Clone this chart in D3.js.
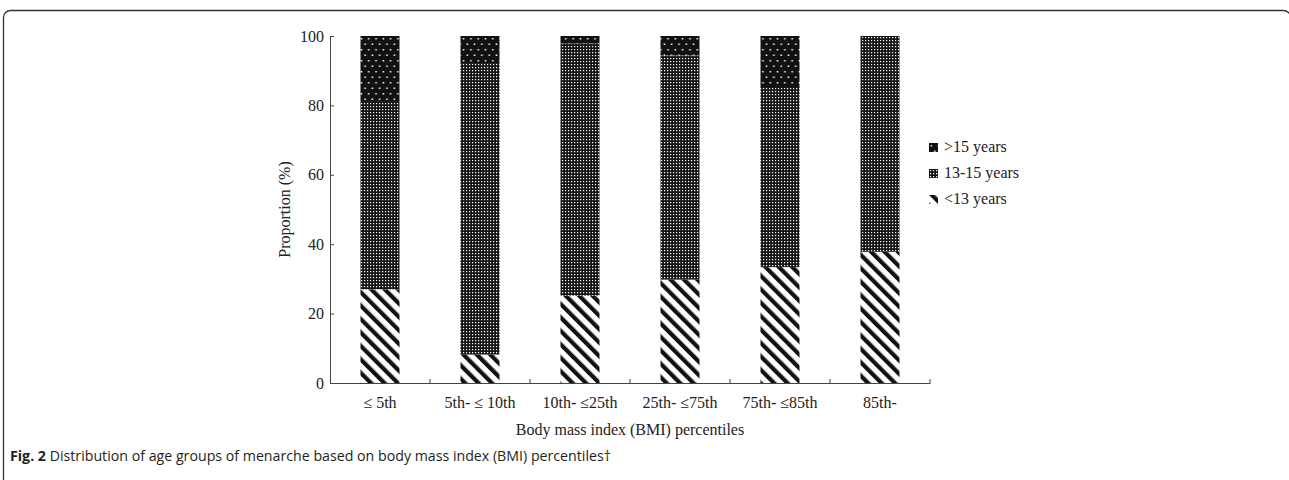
<!DOCTYPE html>
<html>
<head>
<meta charset="utf-8">
<script src="https://cdn.jsdelivr.net/npm/d3@7"></script>
<style>
  body { margin: 0; background: #fff; }
  svg { display: block; }
</style>
</head>
<body>
<div id="chart"></div>
<script>
// values (percent of girls per BMI group)
const categories = ['\u2264 5th', '5th- \u2264 10th', '10th- \u226425th', '25th- \u226475th', '75th- \u226485th', '85th-'];
const under13 = [27, 8.2, 25.2, 29.8, 33.4, 37.8];
const age13to15 = [54, 84, 72.6, 64.6, 51.9, 62.2];
const over15 = [19, 7.8, 2.2, 5.6, 14.7, 0];
const seriesKeys = ['under13', 'age13to15', 'over15'];
const legendLabels = ['>15 years', '13-15 years', '<13 years'];
const yTicks = [0, 20, 40, 60, 80, 100];

const W = 1289, H = 480;
const margin = { top: 36, right: 359, bottom: 97, left: 330 };
const width = W - margin.left - margin.right;   // 600
const height = H - margin.top - margin.bottom;  // 347

const svg = d3.select('#chart').append('svg')
    .attr('width', W)
    .attr('height', H);

// patterns for the three age groups
const defs = svg.append('defs');

const stripes = defs.append('pattern')
    .attr('id', 'pat-under13')
    .attr('patternUnits', 'userSpaceOnUse')
    .attr('width', 9.5)
    .attr('height', 9.5)
    .attr('patternTransform', 'rotate(-45)');
stripes.append('rect').attr('width', 9.5).attr('height', 9.5).attr('fill', '#fff');
stripes.append('rect').attr('width', 4.2).attr('height', 9.5).attr('fill', '#111');

const fine = defs.append('pattern')
    .attr('id', 'pat-age13to15')
    .attr('patternUnits', 'userSpaceOnUse')
    .attr('width', 3)
    .attr('height', 3);
fine.append('rect').attr('width', 3).attr('height', 3).attr('fill', '#151515');
fine.append('rect').attr('x', 1).attr('y', 1).attr('width', 1.2).attr('height', 1.2).attr('fill', '#fff');

const sparse = defs.append('pattern')
    .attr('id', 'pat-over15')
    .attr('patternUnits', 'userSpaceOnUse')
    .attr('width', 7.3)
    .attr('height', 11);
sparse.append('rect').attr('width', 7.3).attr('height', 11).attr('fill', '#111');
sparse.append('rect').attr('x', 1.5).attr('y', 2).attr('width', 1.5).attr('height', 1.5).attr('fill', '#fff');
sparse.append('rect').attr('x', 5.15).attr('y', 7.5).attr('width', 1.5).attr('height', 1.5).attr('fill', '#fff');

// outer panel frame: right side and bottom fall just outside the page
svg.append('rect')
    .attr('x', 3.5).attr('y', 10.5)
    .attr('width', 1287).attr('height', 520)
    .attr('rx', 7)
    .attr('fill', 'none')
    .attr('stroke', '#333')
    .attr('stroke-width', 1.3);

const g = svg.append('g')
    .attr('transform', `translate(${margin.left},${margin.top})`);

const rows = categories.map((c, i) => ({
    cat: c, under13: under13[i], age13to15: age13to15[i], over15: over15[i]
}));
const stacked = d3.stack().keys(seriesKeys)(rows);

const xScale = d3.scaleBand()
    .domain(categories)
    .range([0, width])
    .paddingInner(0.61)
    .paddingOuter(0.305);

const yScale = d3.scaleLinear()
    .domain([0, 100])
    .range([height, 0]);

g.selectAll('.layer')
    .data(stacked)
    .enter().append('g')
    .attr('class', 'layer')
    .attr('fill', d => `url(#pat-${d.key})`)
    .selectAll('rect')
    .data(d => d)
    .enter().append('rect')
    .attr('x', d => xScale(d.data.cat))
    .attr('y', d => yScale(d[1]))
    .attr('width', xScale.bandwidth())
    .attr('height', d => yScale(d[0]) - yScale(d[1]));

const serif = '"Liberation Serif", "DejaVu Serif", serif';

// y axis, ticks pointing inward
const yAxis = g.append('g')
    .call(d3.axisLeft(yScale).tickValues(yTicks).tickSizeInner(-4).tickSizeOuter(0).tickPadding(6));
yAxis.selectAll('text')
    .style('font-family', serif)
    .style('font-size', '16px')
    .attr('fill', '#222');
yAxis.selectAll('line, path').attr('stroke', '#444');

// x axis: labels under bars, ticks at band boundaries
const xAxis = g.append('g')
    .attr('transform', `translate(0,${height})`)
    .call(d3.axisBottom(xScale).tickSize(0).tickPadding(14));
xAxis.selectAll('text')
    .style('font-family', serif)
    .style('font-size', '16px')
    .attr('fill', '#222');
xAxis.select('.domain').attr('stroke', '#444');

const gap = (xScale.step() - xScale.bandwidth()) / 2;
g.selectAll('.xtick')
    .data(categories)
    .enter().append('line')
    .attr('class', 'xtick')
    .attr('x1', d => xScale(d) + xScale.bandwidth() + gap)
    .attr('x2', d => xScale(d) + xScale.bandwidth() + gap)
    .attr('y1', height)
    .attr('y2', height - 4)
    .attr('stroke', '#444');

g.append('text')
    .attr('transform', `translate(${-40},${height / 2}) rotate(-90)`)
    .style('text-anchor', 'middle')
    .style('font-family', serif)
    .style('font-size', '16px')
    .attr('fill', '#222')
    .text('Proportion (%)');

g.append('text')
    .attr('x', width / 2)
    .attr('y', height + 52)
    .style('text-anchor', 'middle')
    .style('font-family', serif)
    .style('font-size', '16px')
    .attr('fill', '#222')
    .text('Body mass index (BMI) percentiles');

// legend
const legend = svg.append('g')
    .attr('transform', 'translate(929,143)');
const legendKeys = ['over15', 'age13to15', 'under13'];
legendKeys.forEach((k, i) => {
    const row = legend.append('g').attr('transform', `translate(0,${i * 26})`);
    row.append('rect')
        .attr('width', 9)
        .attr('height', 9)
        .attr('fill', `url(#pat-${k})`);
    row.append('text')
        .attr('x', 15)
        .attr('y', 9)
        .style('font-family', serif)
        .style('font-size', '16px')
        .attr('fill', '#222')
        .text(legendLabels[i]);
});

// figure caption
const caption = svg.append('text')
    .attr('x', 10)
    .attr('y', 461)
    .style('font-family', '"Open Sans", "Noto Sans", sans-serif')
    .style('font-size', '14.2px')
    .attr('fill', '#231f20');
caption.append('tspan').style('font-weight', 'bold').text('Fig. 2');
caption.append('tspan').text(' Distribution of age groups of menarche based on body mass index (BMI) percentiles\u2020');
</script>
</body>
</html>
